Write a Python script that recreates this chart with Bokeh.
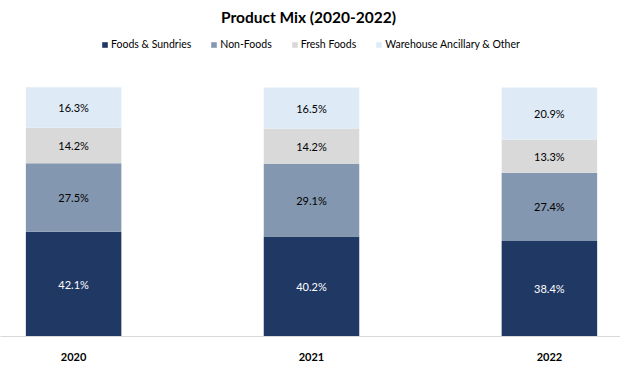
from bokeh.plotting import figure
from bokeh.models import (ColumnDataSource, Range1d, Legend, LegendItem, Label,
                          FixedTicker, LabelSet)
from bokeh.core.properties import value
from bokeh.embed import file_html
from bokeh.resources import INLINE

# ---- data ----
years = ["2020", "2021", "2022"]
series = ["Foods & Sundries", "Non-Foods", "Fresh Foods", "Warehouse Ancillary & Other"]
foods_sundries = [42.1, 40.2, 38.4]
non_foods = [27.5, 29.1, 27.4]
fresh_foods = [14.2, 14.2, 13.3]
warehouse_other = [16.3, 16.5, 20.9]
colors = ["#203864", "#8497B0", "#D9D9D9", "#DEEBF7"]
label_colors = ["#FFFFFF", "#000000", "#000000", "#000000"]

FONT = "Lato"
W, H = 620, 364
AXIS_H = 28
FRAME_H = H - AXIS_H
PX_PER_CAT = 237.9
FIRST_CENTER_PX = 73.1
BAR_PX = 95.5
PX_PER_PCT = 2.49

x = list(range(len(years)))
keys = ["s0", "s1", "s2", "s3"]
values = [foods_sundries, non_foods, fresh_foods, warehouse_other]
data = {"x": x}
for k, v in zip(keys, values):
    data[k] = v
source = ColumnDataSource(data)

p = figure(width=W, height=H, output_backend="svg", toolbar_location=None,
           x_range=Range1d(-FIRST_CENTER_PX / PX_PER_CAT, (W - FIRST_CENTER_PX) / PX_PER_CAT),
           y_range=Range1d(0, FRAME_H / PX_PER_PCT),
           min_border_left=0, min_border_right=0, min_border_top=0,
           min_border_bottom=AXIS_H, title=None)
p.outline_line_color = None
p.xgrid.visible = False
p.ygrid.visible = False
p.yaxis.visible = False
p.background_fill_color = "white"
p.border_fill_color = "white"

renderers = p.vbar_stack(keys, x="x", width=BAR_PX / PX_PER_CAT, color=colors,
                         line_color=None, source=source)

# segment labels
bottoms = [0.0] * len(years)
for k, v, lc in zip(keys, values, label_colors):
    mids = [b + val / 2 for b, val in zip(bottoms, v)]
    txt = [f"{val:.1f}%" for val in v]
    src = ColumnDataSource(dict(x=x, y=mids, t=txt))
    p.add_layout(LabelSet(x="x", y="y", text="t", source=src, text_align="center",
                          text_baseline="middle", text_font=value(FONT),
                          text_font_size=value("11px"), text_color=value(lc)))
    bottoms = [b + val for b, val in zip(bottoms, v)]

# x axis
ax = p.xaxis[0]
ax.ticker = FixedTicker(ticks=x)
ax.major_label_overrides = {i: y for i, y in zip(x, years)}
ax.major_tick_line_color = None
ax.minor_tick_line_color = None
ax.axis_line_color = "#D9D9D9"
ax.axis_line_width = 1
ax.major_label_text_font = FONT
ax.major_label_text_font_style = "bold"
ax.major_label_text_font_size = "11px"
ax.major_label_text_color = "#000000"
ax.major_label_standoff = 10

# title
p.add_layout(Label(x=W / 2 - 2, y=FRAME_H - 16.5, x_units="screen", y_units="screen",
                   text="Product Mix (2020-2022)", text_font=FONT,
                   text_font_style="bold", text_font_size="15.5px",
                   text_align="center", text_baseline="middle", text_color="#000000"))

# legend
items = [LegendItem(label=s, renderers=[r]) for s, r in zip(series, renderers)]
legend = Legend(items=items, orientation="horizontal", location=(101, FRAME_H - 50),
                glyph_width=7, glyph_height=7, label_standoff=3, spacing=19,
                padding=0, margin=0, border_line_color=None,
                background_fill_alpha=0, label_text_font=FONT,
                label_text_font_size="10.5px", label_text_color="#000000",
                label_height=10)
p.add_layout(legend, "center")

open("out.html", "w").write(file_html(p, INLINE))
